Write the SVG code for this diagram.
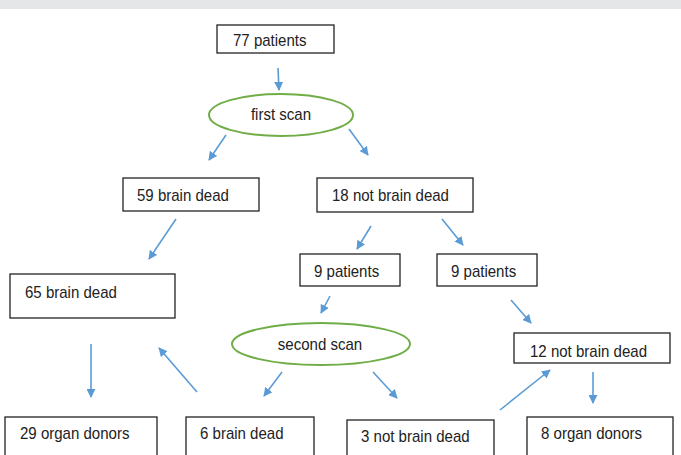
<svg xmlns="http://www.w3.org/2000/svg" width="681" height="455" viewBox="0 0 681 455">
<style>
.box{fill:#fff;stroke:#222;stroke-width:1.3}
.ell{fill:#fff;stroke:#70ad47;stroke-width:2}
.t{font-family:"Liberation Sans",Arial,sans-serif;font-size:16px;fill:#222;transform-box:fill-box;transform-origin:0 0;transform:scaleX(0.94)}
.m{transform-origin:50% 0}
.c{stroke:#5b9bd5;stroke-width:1.6;fill:none;marker-end:url(#ah)}
</style>
<defs>
<marker id="ah" viewBox="0 0 10 10" refX="9" refY="5" markerWidth="9" markerHeight="9" markerUnits="userSpaceOnUse" orient="auto">
<path d="M0,0 L10,5 L0,10 z" fill="#5b9bd5"/>
</marker>
</defs>
<rect x="0" y="0" width="681" height="9" fill="#e5e6e8"/>
<rect x="0" y="9" width="681" height="446" fill="#fff"/>
<g id="connectors">
<line class="c" x1="278" y1="68" x2="279" y2="90"/>
<line class="c" x1="226" y1="135" x2="209" y2="160"/>
<line class="c" x1="349" y1="129" x2="368" y2="155"/>
<line class="c" x1="176" y1="219" x2="149" y2="259"/>
<line class="c" x1="371" y1="226" x2="357" y2="249"/>
<line class="c" x1="442" y1="219" x2="463" y2="245"/>
<line class="c" x1="330" y1="296" x2="321" y2="313"/>
<line class="c" x1="511" y1="300" x2="531" y2="323"/>
<line class="c" x1="91" y1="344" x2="91" y2="397"/>
<line class="c" x1="197" y1="392" x2="159" y2="348"/>
<line class="c" x1="282" y1="372" x2="264" y2="396"/>
<line class="c" x1="373" y1="372" x2="397" y2="398"/>
<line class="c" x1="500" y1="410" x2="550" y2="370"/>
<line class="c" x1="593" y1="372" x2="593" y2="403"/>
</g>
<g id="n77"><rect class="box" x="217" y="25" width="117" height="28"/><text class="t" x="233" y="46">77 patients</text></g>
<g id="first-scan"><ellipse class="ell" cx="281" cy="115" rx="72" ry="21"/><text class="t m" x="281" y="120" text-anchor="middle">first scan</text></g>
<g id="n59"><rect class="box" x="123" y="178" width="136" height="33"/><text class="t" x="137" y="201">59 brain dead</text></g>
<g id="n18"><rect class="box" x="317" y="178" width="156" height="34"/><text class="t" x="332" y="201">18 not brain dead</text></g>
<g id="n9a"><rect class="box" x="300" y="254" width="100" height="32"/><text class="t" x="314" y="277">9 patients</text></g>
<g id="n9b"><rect class="box" x="437" y="254" width="100" height="32"/><text class="t" x="451" y="277">9 patients</text></g>
<g id="n65"><rect class="box" x="10" y="274" width="165" height="44"/><text class="t" x="25" y="298">65 brain dead</text></g>
<g id="second-scan"><ellipse class="ell" cx="321" cy="344" rx="89" ry="21"/><text class="t m" x="320" y="350" text-anchor="middle">second scan</text></g>
<g id="n12"><rect class="box" x="514" y="333" width="156" height="30"/><text class="t" x="530" y="357">12 not brain dead</text></g>
<g id="n29"><rect class="box" x="5" y="417" width="152" height="50"/><text class="t" x="20" y="439">29 organ donors</text></g>
<g id="n6"><rect class="box" x="186" y="417" width="128" height="50"/><text class="t" x="200" y="439">6 brain dead</text></g>
<g id="n3"><rect class="box" x="347" y="420" width="147" height="50"/><text class="t" x="361" y="442">3 not brain dead</text></g>
<g id="n8"><rect class="box" x="527" y="417" width="146" height="50"/><text class="t" x="541" y="439">8 organ donors</text></g>
</svg>
